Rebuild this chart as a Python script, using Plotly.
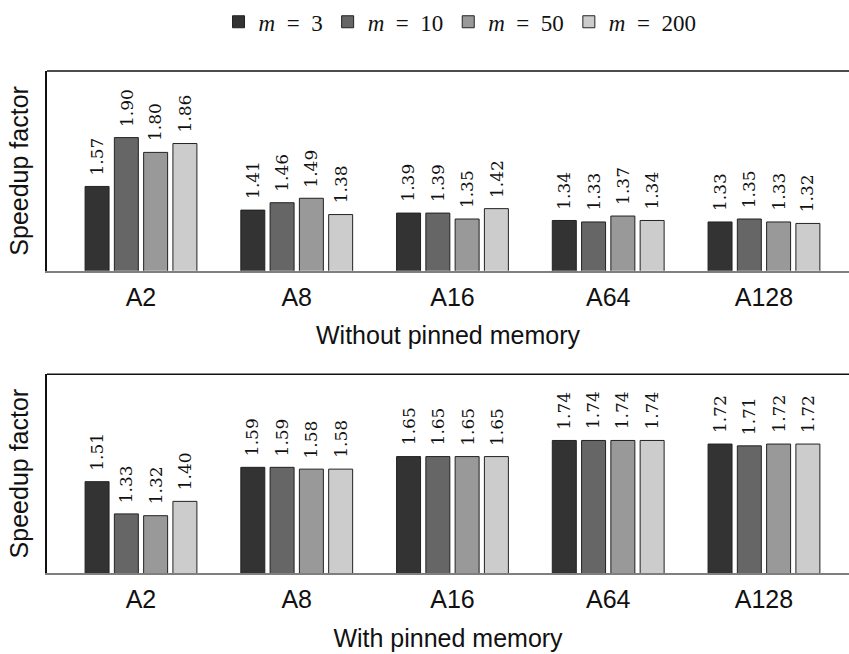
import plotly.graph_objects as go

# Speedup factors per matrix set and per value of m
groups = ["A2", "A8", "A16", "A64", "A128"]
m_values = [3, 10, 50, 200]

speedup_unpinned = [
    [1.57, 1.41, 1.39, 1.34, 1.33],  # m = 3
    [1.90, 1.46, 1.39, 1.33, 1.35],  # m = 10
    [1.80, 1.49, 1.35, 1.37, 1.33],  # m = 50
    [1.86, 1.38, 1.42, 1.34, 1.32],  # m = 200
]
speedup_pinned = [
    [1.51, 1.59, 1.65, 1.74, 1.72],  # m = 3
    [1.33, 1.59, 1.65, 1.74, 1.71],  # m = 10
    [1.32, 1.58, 1.65, 1.74, 1.72],  # m = 50
    [1.40, 1.58, 1.65, 1.74, 1.72],  # m = 200
]

fills = ["#333333", "#666666", "#999999", "#cccccc"]
bar_pitch = 0.188
bar_width = 0.154

sans = "'Liberation Sans', Arial, sans-serif"
serif = "'DejaVu Serif', serif"
legend_serif = "'Liberation Serif', 'Times New Roman', serif"

fig = go.Figure()
annotations = []

panels = [
    (speedup_unpinned, "x", "y", "Without pinned memory"),
    (speedup_pinned, "x2", "y2", "With pinned memory"),
]

for p, (data, xa, ya, _) in enumerate(panels):
    for k, (m, vals) in enumerate(zip(m_values, data)):
        off = (k - 1.5) * bar_pitch
        xs = [i + off for i in range(len(groups))]
        fig.add_trace(go.Bar(
            x=xs, y=vals, width=bar_width,
            xaxis=xa, yaxis=ya,
            marker=dict(color=fills[k], line=dict(color="#222222", width=1)),
            name=f"<i>m</i>\u2002=\u2002{m}",
            showlegend=(p == 0),
            legendgroup=str(m),
            hoverinfo="skip",
        ))
        for x, v in zip(xs, vals):
            annotations.append(dict(
                x=x, y=v, xref=xa, yref=ya,
                text=f"{v:.2f}", textangle=-90,
                showarrow=False, xanchor="center", yanchor="bottom",
                yshift=9,
                font=dict(family=serif, size=17, color="#111111"),
            ))

xrange = [-0.6035, 4.546]
common_x = dict(
    range=xrange, tickmode="array", tickvals=list(range(len(groups))),
    ticktext=groups, showline=True, linecolor="#7f7f7f", linewidth=2,
    ticks="", ticklabelstandoff=3, showgrid=False, zeroline=False,
    tickfont=dict(family=sans, size=25, color="#111111"),
)
common_y = dict(
    showline=True, linecolor="#111111", linewidth=1.5, ticks="",
    showticklabels=False, showgrid=False, zeroline=False,
)

top_max = max(max(r) for r in speedup_unpinned)
bot_max = max(max(r) for r in speedup_pinned)

title_font = dict(family=sans, size=25, color="#111111")

fig.update_layout(
    width=849, height=654,
    margin=dict(l=47, r=0, t=71, b=81),
    paper_bgcolor="white", plot_bgcolor="white",
    barmode="overlay",
    xaxis=dict(common_x, anchor="y", domain=[0, 1],
               title=dict(text=panels[0][3], standoff=17, font=title_font)),
    yaxis=dict(common_y, anchor="x", domain=[0.602, 1],
               range=[1, 1 + 1.5 * (top_max - 1)],
               title=dict(text="Speedup factor", standoff=9, font=title_font)),
    xaxis2=dict(common_x, anchor="y2", domain=[0, 1],
                title=dict(text=panels[1][3], standoff=17, font=title_font)),
    yaxis2=dict(common_y, anchor="x2", domain=[0, 0.396],
                range=[1, 1 + 1.5 * (bot_max - 1)],
                title=dict(text="Speedup factor", standoff=9, font=title_font)),
    legend=dict(orientation="h", x=0.515, xanchor="center", y=1.098,
                yanchor="middle",
                font=dict(family=legend_serif, size=23, color="#111111"),
                itemwidth=30, tracegroupgap=0),
    annotations=annotations,
    shapes=[
        dict(type="line", xref="x domain", yref="y domain", x0=0, x1=1, y0=1, y1=1,
             line=dict(color="#111111", width=1.5)),
        dict(type="line", xref="x2 domain", yref="y2 domain", x0=0, x1=1, y0=1, y1=1,
             line=dict(color="#111111", width=1.5)),
    ],
)

fig.write_html("out.html")
